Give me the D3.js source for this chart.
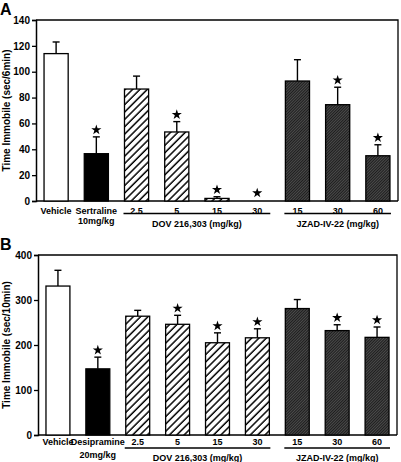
<!DOCTYPE html>
<html><head><meta charset="utf-8">
<script src="https://cdn.jsdelivr.net/npm/d3@7"></script>
<style>body{margin:0;background:#fff}svg{display:block}text{font-family:"Liberation Sans",Arial,sans-serif;font-weight:bold;fill:#000}</style>
</head><body>
<script>
const categories = ["veh","ref","dov2.5","dov5","dov15","dov30","jz15","jz30","jz60"];
const fills = ["open","solid","hatch","hatch","hatch","hatch","dark","dark","dark"];
const tickLabelsA = [["Vehicle"],["Sertraline","10mg/kg"],["2.5"],["5"],["15"],["30"],["15"],["30"],["60"]];
const tickLabelsB = [["Vehicle"],["Desipramine","20mg/kg"],["2.5"],["5"],["15"],["30"],["15"],["30"],["60"]];
const meansA = [114, 36.6, 86.6, 53.4, 2, 0, 92.8, 74.5, 35];
const errA = [9, 13, 10, 8, 1.3, 0, 16.5, 13.5, 8.5];
const sigA = [false, true, false, true, true, true, false, true, true];
const meansB = [331, 147, 264, 246, 205, 216, 281, 232, 217];
const errB = [35, 26, 13, 20, 22, 20, 20, 13, 23];
const sigB = [false, true, false, true, true, true, false, true, true];
const yTicksA = [0, 20, 40, 60, 80, 100, 120, 140];
const yTicksB = [0, 100, 200, 300, 400];
const groups = [
  {label: "DOV 216,303 (mg/kg)", from: "dov2.5", to: "dov30"},
  {label: "JZAD-IV-22 (mg/kg)", from: "jz15", to: "jz60"}
];

const svg = d3.select("body").append("svg").attr("width", 401).attr("height", 462);
const defs = svg.append("defs");
const h = defs.append("pattern").attr("id","hatch").attr("patternUnits","userSpaceOnUse")
  .attr("width",5.2).attr("height",5.2).attr("patternTransform","rotate(45)");
h.append("rect").attr("width",5.2).attr("height",5.2).attr("fill","#fff");
h.append("line").attr("x1",1).attr("x2",1).attr("y1",0).attr("y2",5.2).attr("stroke","#000").attr("stroke-width",1.5);
const dk = defs.append("pattern").attr("id","dark").attr("patternUnits","userSpaceOnUse")
  .attr("width",2).attr("height",2).attr("patternTransform","rotate(45)");
dk.append("rect").attr("width",2).attr("height",2).attr("fill","#1e1e1e");
dk.append("line").attr("x1",0.5).attr("x2",0.5).attr("y1",0).attr("y2",2).attr("stroke","#6a6a6a").attr("stroke-width",0.6);

const fillOf = t => t === "open" ? "#fff" : t === "solid" ? "#000" : t === "hatch" ? "url(#hatch)" : "url(#dark)";

function panel(o) {
  const g = svg.append("g");
  const x = d3.scaleBand().domain(categories).range([o.left, o.right]).paddingInner(0.4).paddingOuter(0.2);
  const y = d3.scaleLinear().domain([0, o.max]).range([o.bottom, o.top]);
  g.append("path").attr("d", `M${o.left},${o.top}H${o.right}V${o.bottom}`).attr("fill","none").attr("stroke","#000").attr("stroke-width",1.3);
  const ax = g.append("g").attr("transform", `translate(${o.left},0)`).call(d3.axisLeft(y).tickValues(o.ticks).tickSize(4).tickPadding(2));
  ax.select(".domain").attr("stroke-width",1.5);
  ax.selectAll(".tick line").attr("stroke-width",1.3);
  ax.selectAll("text").style("font-size","10px").style("font-family","'Liberation Sans',Arial,sans-serif").style("font-weight","bold");
  g.append("line").attr("x1", o.left).attr("x2", o.right).attr("y1", o.bottom).attr("y2", o.bottom).attr("stroke","#000").attr("stroke-width",1.5);
  const bw = x.bandwidth();
  categories.forEach((c, i) => {
    const cx = x(c) + bw / 2;
    const v = o.means[i], e = o.err[i];
    if (v > 0) {
      g.append("line").attr("x1",cx).attr("x2",cx).attr("y1",y(v)).attr("y2",y(v+e)).attr("stroke","#000").attr("stroke-width",1.4);
      g.append("line").attr("x1",cx-3.5).attr("x2",cx+3.5).attr("y1",y(v+e)).attr("y2",y(v+e)).attr("stroke","#000").attr("stroke-width",1.4);
      g.append("rect").attr("x", x(c)).attr("y", y(v)).attr("width", bw).attr("height", y(0)-y(v))
        .attr("fill", fillOf(fills[i])).attr("stroke","#000").attr("stroke-width",1.3);
    }
    if (o.sig[i]) {
      g.append("path").attr("d", d3.symbol(d3.symbolStar, 32)())
        .attr("transform", `translate(${cx},${y(v+e) - (v > 0 ? 7 : 8)})`).attr("fill","#000");
    }
    o.labels[i].forEach((t, k) => {
      g.append("text").attr("x", cx).attr("y", o.labY + k * o.labDy).attr("text-anchor","middle")
        .style("font-size","9px").text(t);
    });
  });
  groups.forEach(gr => {
    const x1 = x(gr.from) - 1, x2 = x(gr.to) + bw + 1;
    g.append("line").attr("x1",x1).attr("x2",x2).attr("y1",o.lineY).attr("y2",o.lineY).attr("stroke","#000").attr("stroke-width",1.3);
    g.append("text").attr("x",(x1+x2)/2).attr("y",o.grpY).attr("text-anchor","middle").style("font-size","9px").text(gr.label);
  });
  g.append("text").attr("transform", `translate(${o.titleX},${(o.top+o.bottom)/2}) rotate(-90)`).attr("text-anchor","middle")
    .style("font-size","10px").text(o.title);
  g.append("text").attr("x", 0).attr("y", o.letterY).style("font-size","16px").text(o.letter);
}

panel({left:36, right:398, top:20, bottom:201, max:140, ticks:yTicksA, means:meansA, err:errA, sig:sigA,
  labels:tickLabelsA, labY:214, labDy:10, lineY:213.5, grpY:226.5, titleX:10, title:"Time Immobile (sec/6min)", letter:"A", letterY:15});
panel({left:38, right:397, top:255, bottom:435, max:400, ticks:yTicksB, means:meansB, err:errB, sig:sigB,
  labels:tickLabelsB, labY:444.5, labDy:13, lineY:448, grpY:461, titleX:10, title:"Time Immobile (sec/10min)", letter:"B", letterY:250});
</script>
</body></html>
